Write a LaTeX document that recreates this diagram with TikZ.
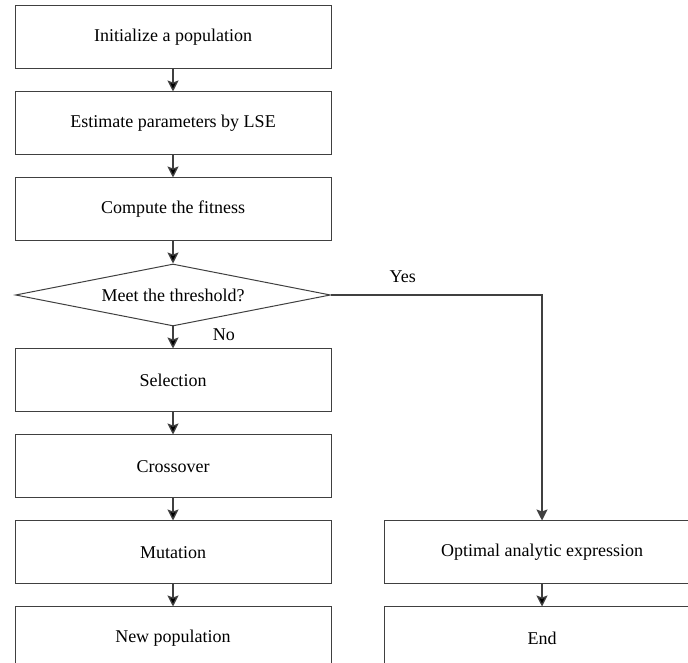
\documentclass[tikz,border=0pt]{standalone}
\usepackage{fontspec}
\setmainfont{Liberation Serif}
\usetikzlibrary{shapes.geometric,arrows.meta,positioning}
\definecolor{linegray}{HTML}{404040}

\begin{document}
\begin{tikzpicture}[x=1pt,y=1pt,->,>={Stealth[length=11pt,width=11pt,inset=2pt]},
  node distance=22pt,font=\fontsize{18}{20}\selectfont,
  flow/.style={draw=linegray,line width=1.3pt},
  box/.style={rectangle,draw=linegray,line width=1pt,minimum width=316pt,minimum height=63pt},
  check/.style={diamond,draw=linegray,line width=1pt,aspect=5,inner sep=0pt,
    minimum width=315pt,minimum height=62pt}]

  \clip (0,0) rectangle (688,663);

  \node[box] (init) at (173,625.5) {Initialize a population};
  \node[box] (lse) [below=of init] {Estimate parameters by LSE};
  \node[box] (fit) [below=of lse] {Compute the fitness};
  \node[check] (meet) [below=of fit] {Meet the threshold?};
  \node[box] (sel) [below=of meet] {Selection};
  \node[box] (cross) [below=of sel] {Crossover};
  \node[box] (mut) [below=of cross] {Mutation};
  \node[box] (newpop) [below=of mut] {New population};
  \node[box] (opt) [right=52pt of mut] {Optimal analytic expression};
  \node[box] (end) [below=of opt] {End};

  \path[flow]
    (init) edge (lse)
    (lse) edge (fit)
    (fit) edge (meet)
    (meet) edge node[pos=0.4,right,xshift=36pt,yshift=1pt] {No} (sel)
    (sel) edge (cross)
    (cross) edge (mut)
    (mut) edge (newpop)
    (opt) edge (end);
  \draw[flow] (meet.east) -| node[above,pos=0.17,yshift=8pt] {Yes} (opt.north);
\end{tikzpicture}
\end{document}
